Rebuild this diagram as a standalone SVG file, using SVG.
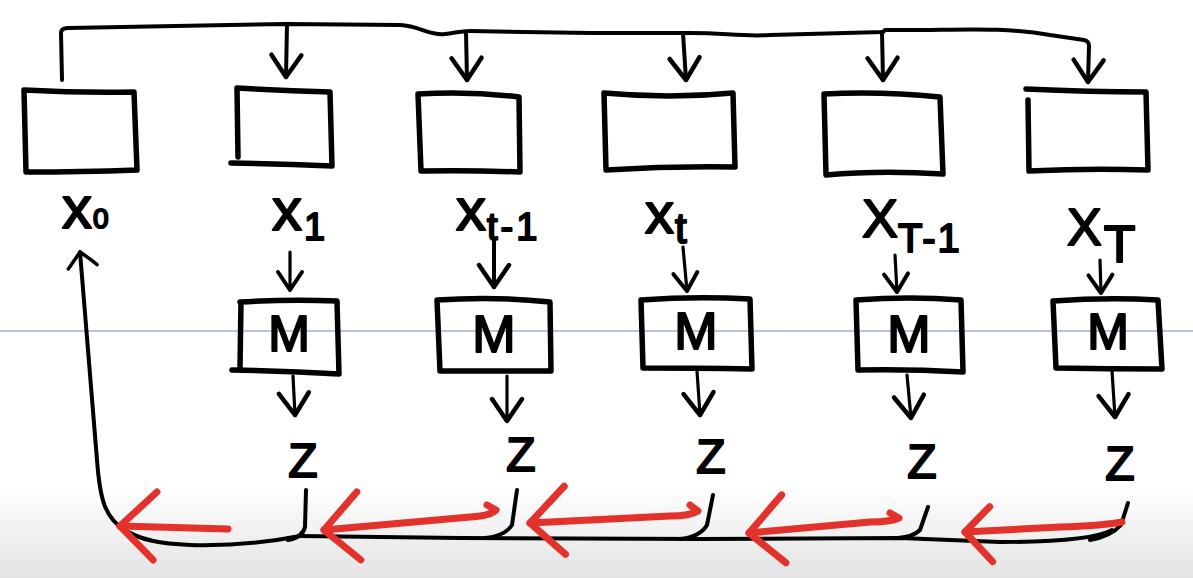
<svg xmlns="http://www.w3.org/2000/svg" width="1193" height="578" viewBox="0 0 1193 578">
<defs>
<style>
.bx{fill:none;stroke:#000;stroke-width:5.5;stroke-linejoin:round;stroke-linecap:round}
.ln{fill:none;stroke:#000;stroke-width:4;stroke-linecap:round;stroke-linejoin:round}
.thin{fill:none;stroke:#000;stroke-width:3.2;stroke-linecap:round;stroke-linejoin:round}
.red{fill:none;stroke:#e3312b;stroke-width:7;stroke-linecap:round;stroke-linejoin:round}
.t{font-family:"Liberation Sans",Arial,sans-serif;fill:#000;stroke:#000;stroke-width:2;stroke-linejoin:round}
</style>
<linearGradient id="floor" x1="0" y1="485" x2="0" y2="578" gradientUnits="userSpaceOnUse">
<stop offset="0" stop-color="#ffffff"/>
<stop offset="1" stop-color="#e3e3e3"/>
</linearGradient>
<marker id="ah" markerUnits="userSpaceOnUse" orient="auto" overflow="visible" markerWidth="1" markerHeight="1">
<path d="M-22,-15 L0,0 L-22,15" fill="none" stroke="#000" stroke-width="4.5" stroke-linecap="round" stroke-linejoin="round"/>
</marker>
<marker id="ahs" markerUnits="userSpaceOnUse" orient="auto" overflow="visible" markerWidth="1" markerHeight="1">
<path d="M-18,-12 L0,0 L-18,12" fill="none" stroke="#000" stroke-width="4" stroke-linecap="round" stroke-linejoin="round"/>
</marker>
<marker id="ahu" markerUnits="userSpaceOnUse" orient="auto" overflow="visible" markerWidth="1" markerHeight="1">
<path d="M-16,-13 L0,0 Q-8,10 -14,16" fill="none" stroke="#000" stroke-width="3.5" stroke-linecap="round" stroke-linejoin="round"/>
</marker>
<marker id="ahr" markerUnits="userSpaceOnUse" orient="auto" overflow="visible" markerWidth="1" markerHeight="1">
<path d="M-34,-33 L0,0 L-36,35" fill="none" stroke="#e3312b" stroke-width="7" stroke-linecap="round" stroke-linejoin="round"/>
</marker>
<marker id="ahr2" markerUnits="userSpaceOnUse" orient="auto" overflow="visible" markerWidth="1" markerHeight="1">
<path d="M-26,-31 L0,0 L-26,24" fill="none" stroke="#e3312b" stroke-width="7" stroke-linecap="round" stroke-linejoin="round"/>
</marker>
</defs>

<rect width="1193" height="578" fill="#ffffff"/>
<rect x="0" y="485" width="1193" height="93" fill="url(#floor)"/>
<line x1="0" y1="331" x2="1193" y2="331" stroke="#b9c5d6" stroke-width="2"/>

<g id="connectors">
<path class="ln" d="M62,80 L61,33 Q61,28 68,28 L287,24 L400,25 C420,26 430,36 445,34 C455,33 460,31 470,31 L590,33 L682,33 C720,32 740,37 770,35 L883,32 L885,30 C950,31 1000,26 1050,35 L1084,40 Q1089,41 1089,46 L1088,82" marker-end="url(#ah)"/>
<path class="ln" d="M287,24 L286,77" marker-end="url(#ah)"/>
<path class="ln" d="M466,32 L467,80" marker-end="url(#ah)"/>
<path class="ln" d="M683,33 L686,80" marker-end="url(#ah)"/>
<path class="ln" d="M882,32 L883,80" marker-end="url(#ah)"/>
<path class="thin" d="M290,252 L290,290" marker-end="url(#ahs)"/>
<path class="ln" d="M494,240 L494,287" marker-end="url(#ah)"/>
<path class="thin" d="M683,247 L687,291" marker-end="url(#ahs)"/>
<path class="thin" d="M895,255 L897,292" marker-end="url(#ahs)"/>
<path class="thin" d="M1100,260 L1101,293" marker-end="url(#ahs)"/>
<path class="thin" d="M293,376 L295,415" marker-end="url(#ah)"/>
<path class="thin" d="M507,376 L507,421" marker-end="url(#ah)"/>
<path class="thin" d="M697,371 L700,415" marker-end="url(#ah)"/>
<path class="thin" d="M907,375 L911,418" marker-end="url(#ah)"/>
<path class="thin" d="M1112,371 L1115,417" marker-end="url(#ah)"/>
<path class="ln" d="M300,536 C270,542 230,546 190,545 C160,544 140,540 125,530 C105,518 100,500 97,460 L80,252" marker-end="url(#ahu)"/>
<path class="ln" d="M300,536 L460,538 L700,539 L900,538 L1000,542 Q1090,542 1112,530"/>
<path class="ln" d="M306,490 L305,527 Q303,537 288,540"/>
<path class="ln" d="M517,490 L512,525 Q505,536 485,538"/>
<path class="ln" d="M713,495 L707,525 Q700,537 680,539"/>
<path class="ln" d="M928,507 L920,530 Q913,537 898,538"/>
<path class="ln" d="M1128,503 L1121,525 Q1110,537 1090,540"/>
<path class="red" d="M228,529 L120,526" marker-end="url(#ahr)"/>
<path class="red" d="M487,505 L496,510 Q490,516 470,517 L324,530" marker-end="url(#ahr)"/>
<path class="red" d="M690,505 L698,511 Q690,516 670,516 L530,523" marker-end="url(#ahr)"/>
<path class="red" d="M890,513 L899,518 Q890,522 870,522 L749,533" marker-end="url(#ahr)"/>
<path class="red" d="M1122,522 Q1100,526 1060,527 L965,532" marker-end="url(#ahr2)"/>
</g>

<g id="box0">
<path class="bx" d="M24,90 Q80,93 134,92 L137,170 Q80,172 26,172 Z"/>
<text class="t" x="62" y="228" font-size="60">x<tspan font-size="28" dx="1">0</tspan></text>
</g>
<g id="box1">
<path class="bx" d="M238,157 L237,88 Q285,91 330,92 L332,166 Q280,164 231,163"/>
<text class="t" x="272" y="230" font-size="60">x<tspan font-size="38" dx="2" dy="10">1</tspan></text>
</g>
<g id="box2">
<path class="bx" d="M418,94 Q470,91 519,97 L520,172 Q470,170 421,171 Z"/>
<text class="t" x="456" y="230" font-size="60">x<tspan font-size="38" dx="1" dy="10" letter-spacing="3">t-1</tspan></text>
</g>
<g id="box3">
<path class="bx" d="M604,93 Q670,99 733,93 L735,167 Q670,166 606,170 Z"/>
<text class="t" x="645" y="233" font-size="58">x<tspan font-size="42" dx="1" dy="10">t</tspan></text>
</g>
<g id="box4">
<path class="bx" d="M824,94 Q880,91 940,97 L943,174 Q880,170 826,175 Z"/>
<text class="t" x="862" y="237" font-size="54">X<tspan font-size="40" dx="0" dy="15" letter-spacing="2">T-1</tspan></text>
</g>
<g id="box5">
<path class="bx" d="M1026,89 Q1090,92 1146,92 L1148,170 Q1090,168 1029,171 L1028,100"/>
<text class="t" x="1067" y="245" font-size="52">X<tspan font-size="52" dx="2" dy="17">T</tspan></text>
</g>

<g id="m1">
<path class="bx" d="M240,302 Q290,299 337,301 L339,374 Q290,371 232,370 M241,302 L240,368"/>
<text class="t" x="289" y="351" font-size="50" text-anchor="middle">M</text>
</g>
<g id="m2">
<path class="bx" d="M437,300 Q495,296 550,302 L551,371 Q495,371 440,371 Z"/>
<text class="t" x="494" y="352" font-size="52" text-anchor="middle">M</text>
</g>
<g id="m3">
<path class="bx" d="M641,300 Q695,296 750,299 L752,369 Q695,368 643,368 Z"/>
<text class="t" x="696" y="349" font-size="52" text-anchor="middle">M</text>
</g>
<g id="m4">
<path class="bx" d="M856,300 Q910,296 961,300 L963,372 Q910,369 858,370 Z"/>
<text class="t" x="909" y="352" font-size="52" text-anchor="middle">M</text>
</g>
<g id="m5">
<path class="bx" d="M1053,301 Q1108,297 1158,300 L1162,369 Q1108,369 1056,368 Z"/>
<text class="t" x="1108" y="349" font-size="50" text-anchor="middle">M</text>
</g>

<g id="z1"><text class="t" x="303" y="477" font-size="48" text-anchor="middle">Z</text></g>
<g id="z2"><text class="t" x="521" y="471" font-size="48" text-anchor="middle">Z</text></g>
<g id="z3"><text class="t" x="711" y="473" font-size="48" text-anchor="middle">Z</text></g>
<g id="z4"><text class="t" x="922" y="478" font-size="48" text-anchor="middle">Z</text></g>
<g id="z5"><text class="t" x="1120" y="480" font-size="48" text-anchor="middle">Z</text></g>
</svg>
